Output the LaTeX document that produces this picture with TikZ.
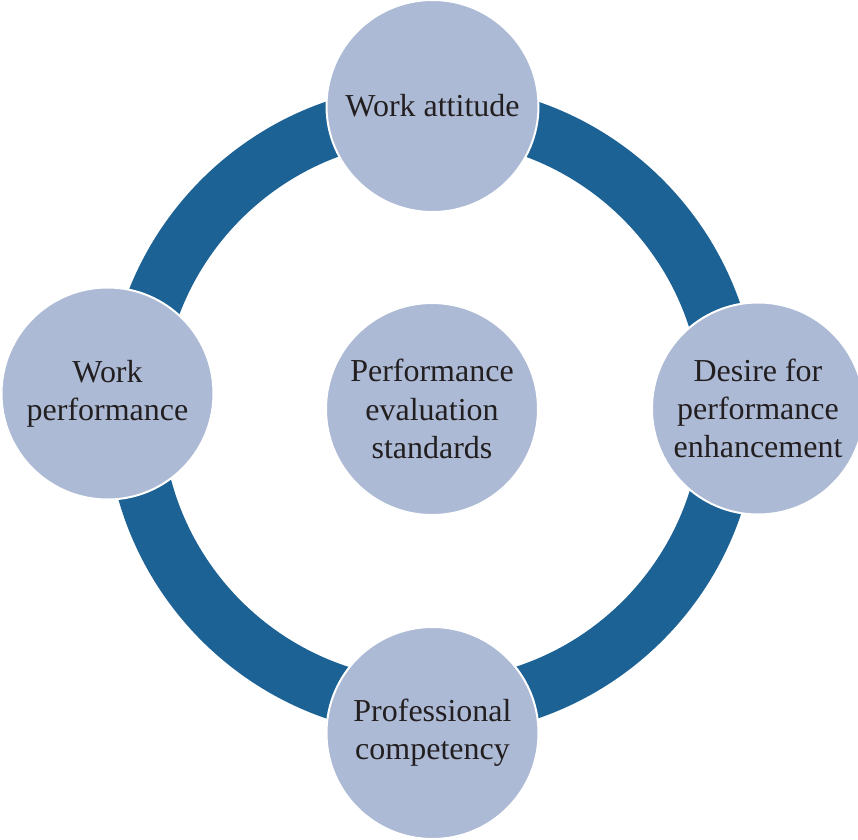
\documentclass[tikz,border=0pt]{standalone}
\usepackage{fontspec}
\setmainfont{Liberation Serif}
\definecolor{ringblue}{HTML}{1D6295}
\definecolor{discblue}{HTML}{ACBAD5}
\definecolor{inkgray}{HTML}{231F20}

\begin{document}
\begin{tikzpicture}[x=0.2mm,y=-0.2mm,
  disc/.style={circle,fill=discblue,draw=white,line width=0.4mm,minimum size=42.4mm,
    inner sep=0pt,align=center,text=inkgray,font=\fontsize{18.2}{21.8}\selectfont}]
\useasboundingbox (0,0) rectangle (858,839);
\coordinate (hub) at (432,410);
% the ring behind the discs
\draw[ringblue,line width=11.2mm] (hub) circle[radius=59.6mm];
\node[disc] (attitude) at (432.5,106) {\raisebox{-0.6mm}{Work attitude}};
\node[disc] (desire) at (758,408.5) {Desire for\\performance\\enhancement};
\node[disc] (competency) at (432.5,733) {Professional\\competency};
\node[disc] (performance) at (107.5,393.5) {Work\\performance};
\node[disc] (standards) at (432,409) {Performance\\evaluation\\standards};
\end{tikzpicture}
\end{document}
